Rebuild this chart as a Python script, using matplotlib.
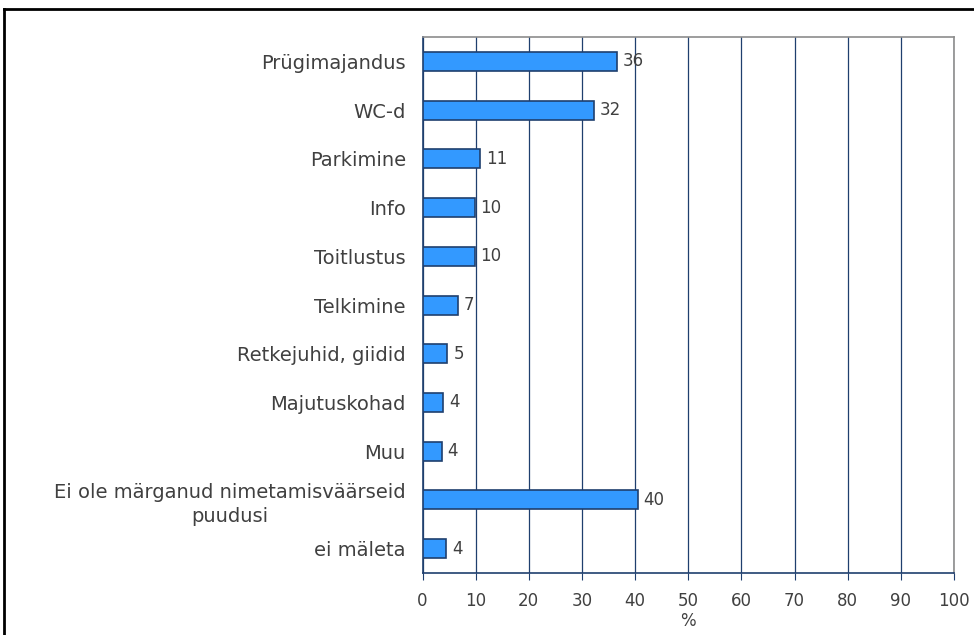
import matplotlib.pyplot as plt
from matplotlib.lines import Line2D

categories = [
    "Prügimajandus",
    "WC-d",
    "Parkimine",
    "Info",
    "Toitlustus",
    "Telkimine",
    "Retkejuhid, giidid",
    "Majutuskohad",
    "Muu",
    "Ei ole märganud nimetamisväärseid\npuudusi",
    "ei mäleta",
]
values = [36.6, 32.3, 10.8, 9.8, 9.8, 6.6, 4.7, 3.9, 3.6, 40.5, 4.5]
labels = ["36", "32", "11", "10", "10", "7", "5", "4", "4", "40", "4"]
xticks = list(range(0, 101, 10))

text_color = "#404040"
navy = "#1f3f6e"

fig = plt.figure(figsize=(9.74, 6.35), dpi=100)
ax = fig.add_axes([0.4338, 0.0976, 0.5456, 0.8441])

y = list(range(len(categories)))
ax.barh(y, values, height=0.39, color="#3399ff", edgecolor=navy, linewidth=1.2, zorder=3)
for yi, v, lab in zip(y, values, labels):
    ax.text(v + 1.1, yi, lab, va="center", ha="left", fontsize=12,
            color=text_color, zorder=4)

ax.set_xlim(0, 100)
ax.set_ylim(len(categories) - 0.5, -0.5)
ax.set_xticks(xticks)
ax.set_yticks(y)
ax.set_yticklabels(categories, fontsize=14, color=text_color, ha="right",
                   multialignment="center", linespacing=1.35)
ax.tick_params(axis="y", length=0, pad=12)
ax.tick_params(axis="x", direction="out", length=5, color=navy, labelsize=12,
               labelcolor=text_color, pad=9)
ax.set_xlabel("%", fontsize=12, color=text_color, labelpad=1)

ax.grid(axis="x", color=navy, linewidth=0.9, zorder=0)
ax.set_axisbelow(True)
ax.spines["left"].set_color(navy)
ax.spines["bottom"].set_color(navy)
ax.spines["top"].set_color("#8c8c8c")
ax.spines["right"].set_color("#8c8c8c")
for s in ax.spines.values():
    s.set_linewidth(1.2)

# outer frame that runs off the right and bottom edge
fig.add_artist(Line2D([4 / 974, 1.0], [1 - 9 / 635, 1 - 9 / 635],
                      transform=fig.transFigure, color="black", linewidth=2))
fig.add_artist(Line2D([4 / 974, 4 / 974], [0.0, 1 - 9 / 635],
                      transform=fig.transFigure, color="black", linewidth=2))

fig.savefig("out.png", dpi=100)
